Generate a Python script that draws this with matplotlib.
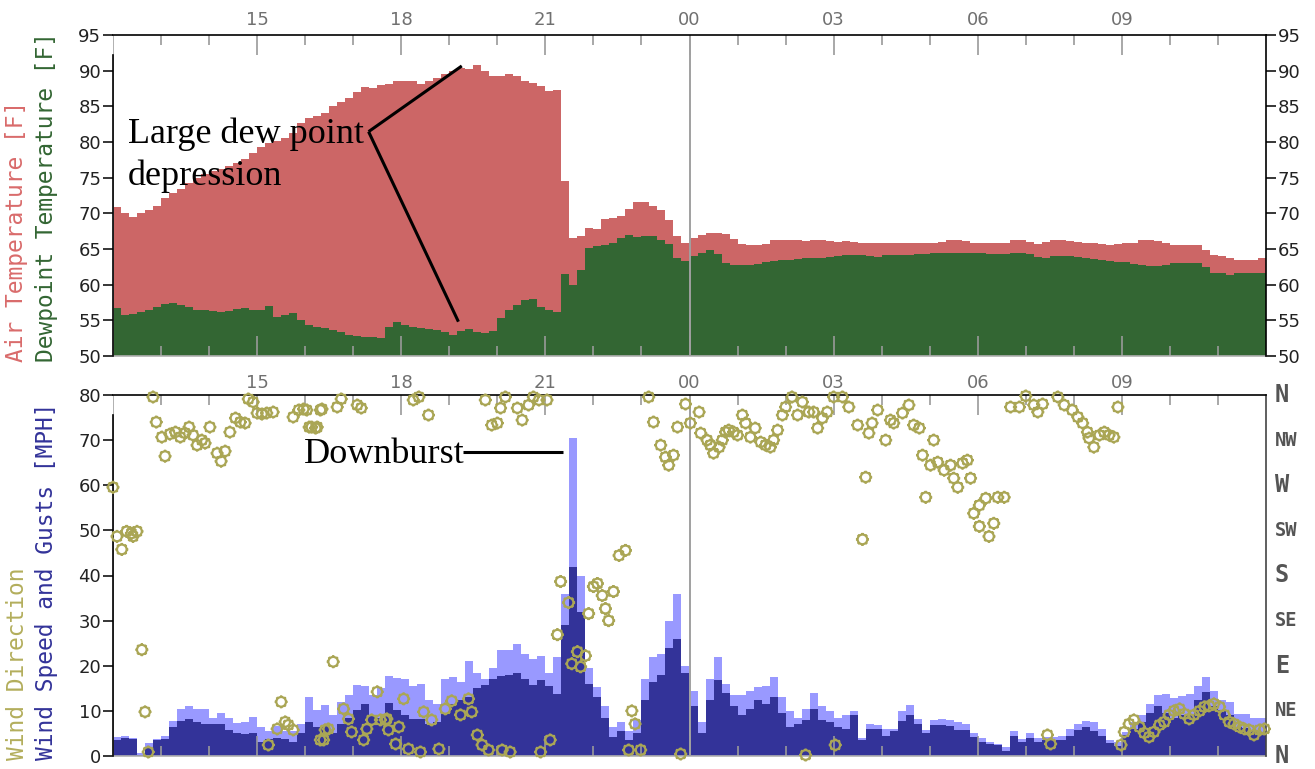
import numpy as np
import matplotlib
matplotlib.use("Agg")
import matplotlib.pyplot as plt
from matplotlib.path import Path
from matplotlib.transforms import blended_transform_factory

# ---------------- data (10-minute steps starting 12:00) ----------------
air_temp = [70.9,70.0,69.5,70.0,70.5,71.0,72.1,72.8,73.4,74.2,
            74.9,75.5,75.9,76.2,76.7,77.1,77.6,78.5,79.3,79.8,
            80.1,80.5,81.2,82.6,83.3,83.6,84.0,85.0,85.6,86.2,
            87.0,87.7,87.6,88.0,88.2,88.5,88.6,88.5,88.1,88.5,
            89.0,89.6,90.0,90.4,90.2,90.8,90.0,89.2,89.3,89.5,
            89.3,88.6,88.3,87.9,87.2,87.3,74.5,66.5,66.8,68.0,
            67.8,69.2,69.3,69.6,70.6,71.6,71.6,71.0,70.4,69.0,
            66.8,65.8,66.5,66.9,67.2,67.3,67.1,66.4,65.7,65.6,
            65.6,65.7,66.2,66.2,66.2,66.2,66.1,66.2,66.2,66.1,
            66.0,66.1,66.0,65.9,65.8,65.8,65.9,65.9,65.9,65.9,
            65.9,65.9,65.9,66.0,66.2,66.2,66.1,65.8,65.8,65.8,
            65.8,65.9,66.2,66.3,66.0,65.7,66.0,66.2,66.2,66.1,
            66.0,65.9,65.8,65.7,65.6,65.7,65.8,65.9,66.2,66.3,
            66.1,65.8,65.6,65.6,65.6,65.5,64.8,64.1,64.0,63.8,
            63.5,63.4,63.5,63.7]

dew_point = [56.7,55.7,55.9,56.2,56.5,56.8,57.3,57.4,57.1,56.8,
             56.5,56.4,56.3,56.2,56.3,56.6,56.7,56.4,56.5,57.0,
             55.4,55.8,56.0,55.0,54.3,54.1,53.9,53.6,53.3,53.0,
             52.8,52.7,52.7,52.5,54.0,54.8,54.4,54.0,53.9,53.8,
             53.6,53.4,52.9,53.5,53.8,53.4,53.2,53.5,55.3,56.5,
             57.2,57.9,58.0,56.8,56.4,56.2,61.5,60.0,62.0,65.2,
             65.4,65.5,65.8,66.6,67.0,66.7,66.8,66.8,66.2,65.7,
             63.8,63.3,64.0,64.5,64.8,64.3,63.0,62.8,62.8,62.8,
             62.9,63.2,63.3,63.4,63.5,63.6,63.7,63.7,63.8,63.9,
             64.0,64.2,64.1,64.1,64.0,63.9,64.1,64.2,64.2,64.2,
             64.3,64.3,64.4,64.5,64.5,64.5,64.4,64.4,64.4,64.3,
             64.3,64.3,64.4,64.4,64.3,63.9,63.7,64.0,64.0,64.0,
             63.9,63.7,63.6,63.5,63.3,63.2,63.2,62.9,62.8,62.6,
             62.6,62.7,63.0,63.1,63.1,63.1,62.5,61.6,61.6,61.4,
             61.6,61.6,61.6,61.7]

wind_gust = [4.2,4.4,4.0,0.6,2.8,3.8,4.4,7.8,10.5,11.0,
             10.5,10.5,8.5,9.6,8.5,7.4,7.5,8.6,6.4,5.5,
             6.6,5.5,5.5,7.2,13.0,10.1,11.4,9.0,12.0,13.5,
             15.8,15.5,13.5,15.0,17.8,17.2,17.0,15.5,16.0,12.5,
             11.5,17.0,17.5,16.5,21.0,18.3,17.0,19.5,23.5,23.5,
             24.8,22.5,21.5,22.2,18.4,22.0,36.0,70.4,40.0,19.5,
             15.3,11.0,6.5,7.5,5.5,8.0,17.0,22.0,22.5,30.0,
             36.0,20.0,14.4,7.5,17.0,21.9,16.0,13.5,13.5,14.5,
             15.3,15.5,17.5,13.0,10.0,8.5,10.5,14.0,11.0,10.0,
             8.5,9.0,10.0,4.0,7.2,6.8,6.0,6.0,10.0,11.2,
             8.2,5.8,8.0,8.3,8.0,7.6,7.2,5.0,4.0,3.0,
             2.7,2.0,5.5,3.8,5.0,4.0,4.3,4.2,4.4,6.0,
             7.2,7.8,7.5,6.0,3.6,3.0,5.3,7.5,9.0,11.5,
             13.5,13.8,12.8,13.4,13.8,15.6,17.5,14.3,12.5,12.0,
             9.4,9.2,8.5,8.5]

wind_speed = [3.5,4.0,3.7,0.2,2.0,3.5,3.8,6.5,7.8,8.3,
              7.5,7.0,7.0,7.0,5.8,5.0,4.8,5.0,3.0,3.8,
              3.9,3.8,3.2,5.0,7.5,6.4,6.6,5.0,7.0,8.5,
              10.1,11.5,9.0,8.5,11.8,10.3,9.0,8.3,8.2,7.2,
              7.5,9.5,11.5,12.5,13.0,15.0,15.8,17.0,17.8,18.0,
              18.5,17.0,15.8,16.8,15.5,13.8,29.0,41.9,32.0,16.0,
              13.1,8.5,4.2,5.5,3.5,5.0,12.5,16.5,18.0,24.0,
              26.0,18.5,11.0,5.0,12.5,16.8,14.0,11.0,9.0,10.5,
              12.5,11.5,13.0,9.5,6.4,7.2,8.0,10.5,8.0,7.5,
              6.5,6.0,9.0,3.5,6.0,6.0,4.5,5.5,7.8,9.0,
              7.0,5.0,6.8,6.8,6.6,5.8,5.7,4.2,3.2,2.7,
              2.4,1.2,4.5,3.0,4.0,3.0,3.5,3.5,3.6,4.5,
              5.7,6.4,5.5,4.5,2.8,2.3,4.7,6.0,7.5,9.6,
              11.0,9.5,8.5,9.0,9.3,12.5,14.2,11.0,10.3,9.0,
              6.4,6.1,5.5,4.8]

# wind direction observations: minutes after 12:00 and direction in degrees
dir_minutes = [0,5,11,17,23,25,30,36,40,44,50,54,61,65,71,78,84,90,95,100,
               105,111,115,121,130,135,140,146,153,159,165,169,175,180,186,192,200,225,232,238,
               242,245,248,253,255,259,261,280,285,305,310,375,382,394,465,473,480,484,490,505,
               511,519,525,532,542,669,675,684,690,694,700,705,715,721,732,734,742,746,750,757,
               761,765,769,775,780,786,790,796,802,809,815,821,825,830,836,840,848,855,861,869,
               875,880,886,892,900,911,919,930,940,936,944,948,955,965,971,975,986,994,1000,1007,
               1011,1015,1021,1025,1030,1038,1046,1050,1055,1061,1067,1071,1075,1082,1082,1090,1094,1100,1105,1113,
               1121,1132,1140,1150,1155,1161,1180,1188,1198,1205,1211,1217,1219,1225,1232,1238,1244,1250,1255,
               194,205,210,215,219,225,259,263,265,269,275,288,294,298,313,317,323,330,334,340,
               342,344,353,357,363,369,384,388,398,407,415,423,434,444,448,455,461,469,486,496,
               534,546,555,559,569,573,580,584,590,594,600,605,611,615,619,625,632,640,644,648,
               652,659,709,865,902,1167,1171,1259,1263,1269,1275,1282,1288,1294,1300,1307,1313,1319,1325,1332,
               1338,1344,1350,1357,1363,1369,1375,1382,1388,1394,1400,1407,1413,1419,1425,1432,1438]
dir_degrees = [268,219,206,224,222,219,224,106,44,4,358,333,318,299,321,323,318,322,328,320,
               310,315,312,328,302,294,304,323,337,333,332,356,353,342,341,342,343,338,345,346,
               345,328,328,327,328,345,346,348,356,350,347,355,358,340,355,330,332,347,358,347,
               335,350,358,355,355,358,333,310,298,290,300,328,351,332,343,322,315,310,302,308,
               315,323,325,323,320,340,332,318,327,313,310,308,315,325,340,348,358,340,353,343,
               343,327,337,343,358,358,348,330,278,216,322,332,345,315,335,332,342,350,330,327,
               300,258,290,315,293,285,290,277,268,292,295,277,242,250,229,257,219,232,258,258,
               348,348,359,350,343,351,358,350,345,338,332,323,317,308,320,323,320,318,348,
               11,27,54,34,31,26,16,16,26,27,94,47,37,24,16,27,36,64,36,36,
               37,26,12,29,57,7,4,44,36,7,47,55,41,57,44,21,11,6,6,4,
               4,16,121,174,153,92,104,89,100,142,169,172,160,147,135,164,200,205,6,45,
               32,6,2,1,11,21,12,11,24,32,36,29,23,19,24,31,34,41,45,47,
               42,37,41,45,49,50,52,49,41,34,32,29,27,26,21,26,27]

hour_ticks = [15, 18, 21, 24, 27, 30, 33]
hour_labels = ['15', '18', '21', '00', '03', '06', '09']
temp_ticks = list(range(50, 96, 5))
speed_ticks = list(range(0, 81, 10))
compass_labels = ['N', 'NE', 'E', 'SE', 'S', 'SW', 'W', 'NW', 'N']

# ---------------- styling ----------------
C_AIR = '#cc6666'
C_DEW = '#336633'
C_GUST = '#9999ff'
C_SPEED = '#333399'
C_DIR = '#aaa655'
TICK_GRAY = '#9a9a9a'
W, H = 1315, 769

fig = plt.figure(figsize=(W / 100, H / 100), dpi=100)
ax1 = fig.add_axes([113 / W, 1 - 356 / H, 1153 / W, 321 / H])
ax2 = fig.add_axes([113 / W, 1 - 756 / H, 1153 / W, 361 / H])

step = 1 / 6.0
n = len(air_temp)
t_edges = 12 + np.arange(n + 1) * step
air_ext = np.append(air_temp, air_temp[-1])
dew_ext = np.append(dew_point, dew_point[-1])

ax1.fill_between(t_edges, 50, air_ext, step='post', color=C_AIR, lw=0, zorder=1)
ax1.fill_between(t_edges, 50, dew_ext, step='post', color=C_DEW, lw=0, zorder=1.1)
ax1.set_ylim(50, 95)

t_starts = 12 + np.arange(len(wind_gust)) * step
ax2.bar(t_starts, wind_gust, width=step, align='edge', color=C_GUST, lw=0,
        antialiased=False, zorder=1)
ax2.bar(t_starts, wind_speed, width=step, align='edge', color=C_SPEED, lw=0,
        antialiased=False, zorder=1.1)
ax2.set_ylim(0, 80)

# custom "sun" marker: ring with 8 small nubs
segs = [Path.unit_circle()]
for k in range(8):
    a = k * np.pi / 4
    segs.append(Path([(np.cos(a), np.sin(a)), (1.35 * np.cos(a), 1.35 * np.sin(a))],
                     [Path.MOVETO, Path.LINETO]))
sun = Path.make_compound_path(*segs)

dir_hours = 12 + np.array(dir_minutes) / 60.0
dir_axis = np.array(dir_degrees) / 4.5
ax2.scatter(dir_hours, dir_axis, marker=sun, s=88, facecolors='none',
            edgecolors=C_DIR, linewidths=1.6, zorder=3, clip_on=False)

for ax, lo, hi, bnd in ((ax1, 50, 95, 92.2), (ax2, 0, 80, 75.5)):
    ax.set_xlim(12, 36)
    ax.set_xticks(hour_ticks)
    ax.set_xticklabels(hour_labels)
    ax.set_xticks([h for h in range(13, 36) if h not in hour_ticks], minor=True)
    ax.tick_params(axis='x', which='both', direction='in', top=True, bottom=True,
                   labeltop=True, labelbottom=False, color=TICK_GRAY, width=1.2,
                   labelcolor='#707070', labelsize=13)
    ax.tick_params(axis='x', which='major', length=14.5)
    ax.tick_params(axis='x', which='minor', length=7.2)
    ax.axvline(24, color='#a0a0a0', lw=1.4, zorder=2.6)
    ax.axvline(12, color='#b0b0b0', lw=1.4, zorder=2.6)
    for s in ('top', 'left', 'right'):
        ax.spines[s].set_color('black')
        ax.spines[s].set_linewidth(1.2)
        ax.spines[s].set_zorder(2.7)
    ax.spines['left'].set_bounds(lo, bnd)
    ax.spines['bottom'].set_color('#b0b0b0')
    ax.spines['bottom'].set_linewidth(1.2)
    ax.set_facecolor('white')

ax1.tick_params(axis='x', which='major', pad=4)
ax2.tick_params(axis='x', which='major', pad=2)

ax1.set_yticks(temp_ticks)
ax1.tick_params(axis='y', which='major', left=True, right=True, labelleft=True,
                labelright=True, direction='out', length=7.5, width=1.1,
                color='black', labelsize=13, labelcolor='#222222', pad=1)
ax2.set_yticks(speed_ticks)
ax2.tick_params(axis='y', which='major', left=True, right=False, labelleft=True,
                labelright=False, direction='out', length=7.5, width=1.1,
                color='black', labelsize=13, labelcolor='#222222', pad=1)
ax2.spines['right'].set_color('#444444')

# compass labels on the right of the wind panel
tr = blended_transform_factory(ax2.transAxes, ax2.transData)
for v, lab in zip(speed_ticks, compass_labels):
    fs = 17 if len(lab) == 1 else 13.5
    ax2.text(1 + 9 / 1153, v, lab, transform=tr, ha='left', va='center',
             fontsize=fs, fontweight='bold', family='DejaVu Sans Mono',
             color='#555555', clip_on=False)

# rotated axis titles
mono = 'DejaVu Sans Mono'
fig.text(17 / W, 1 - 362 / H, 'Air Temperature [F]', rotation=90, rotation_mode='anchor',
         ha='left', va='center', color='#d96b6b', fontsize=16.5, family=mono)
fig.text(46 / W, 1 - 362 / H, 'Dewpoint Temperature [F]', rotation=90, rotation_mode='anchor',
         ha='left', va='center', color=C_DEW, fontsize=16.5, family=mono)
fig.text(17 / W, 1 - 760 / H, 'Wind Direction', rotation=90, rotation_mode='anchor',
         ha='left', va='center', color='#b3ae5c', fontsize=16.5, family=mono)
fig.text(46 / W, 1 - 760 / H, 'Wind Speed and Gusts [MPH]', rotation=90, rotation_mode='anchor',
         ha='left', va='center', color=C_SPEED, fontsize=16.5, family=mono)

# annotations
serif = 'Liberation Serif'
ax1.text(12.31, 79.8, 'Large dew point', ha='left', va='baseline', fontsize=26,
         family=serif, color='black', zorder=5)
ax1.text(12.31, 74.0, 'depression', ha='left', va='baseline', fontsize=26,
         family=serif, color='black', zorder=5)
ax1.plot([17.32, 19.26], [81.45, 90.66], color='black', lw=2.2, zorder=5,
         solid_capstyle='butt', clip_on=False)
ax1.plot([17.32, 19.19], [81.45, 54.81], color='black', lw=2.2, zorder=5,
         solid_capstyle='butt', clip_on=False)

ax2.text(15.98, 64.9, 'Downburst', ha='left', va='baseline', fontsize=26,
         family=serif, color='black', zorder=5)
ax2.plot([19.29, 21.375], [67.4, 67.4], color='black', lw=2.2, zorder=5,
         solid_capstyle='butt')

fig.savefig('out.png', dpi=100, facecolor='white')
